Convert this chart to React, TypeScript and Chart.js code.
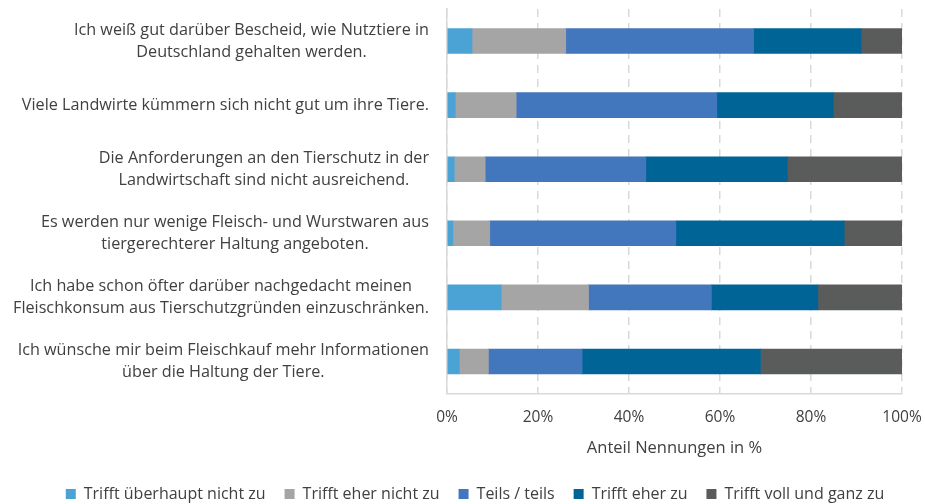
import React, { useEffect, useRef } from "react";
import { Chart, registerables } from "chart.js";

Chart.register(...registerables);

const categories: string[][] = [
  ["Ich weiß gut darüber Bescheid, wie Nutztiere in", "Deutschland gehalten werden."],
  ["Viele Landwirte kümmern sich nicht gut um ihre Tiere."],
  ["Die Anforderungen an den Tierschutz in der", "Landwirtschaft sind nicht ausreichend."],
  ["Es werden nur wenige Fleisch- und Wurstwaren aus", "tiergerechterer Haltung angeboten."],
  ["Ich habe schon öfter darüber nachgedacht meinen", "Fleischkonsum aus Tierschutzgründen einzuschränken."],
  ["Ich wünsche mir beim Fleischkauf mehr Informationen", "über die Haltung der Tiere."],
];

const seriesNames = [
  "Trifft überhaupt nicht zu",
  "Trifft eher nicht zu",
  "Teils / teils",
  "Trifft eher zu",
  "Trifft voll und ganz zu",
];

const trifftUeberhauptNicht = [5.5, 1.8, 1.6, 1.3, 11.9, 2.7];
const trifftEherNicht = [20.6, 13.4, 6.8, 8.1, 19.2, 6.4];
const teilsTeils = [41.3, 44.1, 35.3, 40.9, 27.0, 20.6];
const trifftEher = [23.6, 25.6, 31.1, 37.0, 23.4, 39.2];
const trifftVoll = [9.0, 15.1, 25.2, 12.7, 18.5, 31.1];

const xTicks = [0, 20, 40, 60, 80, 100];
const xTitle = "Anteil Nennungen in %";

const colors = ["#4BA3D5", "#A5A5A5", "#4276BD", "#006496", "#5A5B5B"];
const FONT = "'Open Sans', Lato, sans-serif";
const TEXT = "#404040";
const PAD_LEFT = 25;

const yLabelPlugin = {
  id: "yLabelPlugin",
  afterDraw(chart: any) {
    const ctx = chart.ctx;
    const yScale = chart.scales.y;
    const right = chart.chartArea.left - 18;
    const lh = 22;
    ctx.save();
    ctx.font = `16.2px ${FONT}`;
    ctx.fillStyle = TEXT;
    ctx.textAlign = "center";
    ctx.textBaseline = "middle";
    categories.forEach((lines, i) => {
      const y = yScale.getPixelForValue(i);
      const maxW = Math.max(...lines.map((l) => ctx.measureText(l).width));
      const cx = right - maxW / 2;
      lines.forEach((l, j) => {
        ctx.fillText(l, cx, y + (j - (lines.length - 1) / 2) * lh);
      });
    });
    ctx.restore();
  },
};

export default function App() {
  const ref = useRef<HTMLCanvasElement>(null);
  useEffect(() => {
    document.body.style.margin = "0";
    const values = [trifftUeberhauptNicht, trifftEherNicht, teilsTeils, trifftEher, trifftVoll];
    const chart = new Chart(ref.current!, {
      type: "bar",
      data: {
        labels: categories.map((c) => c.join(" ")),
        datasets: seriesNames.map((name, k) => ({
          label: name,
          data: values[k],
          backgroundColor: colors[k],
          borderWidth: 0,
          barThickness: 25,
        })),
      },
      options: {
        indexAxis: "y",
        animation: false,
        responsive: false,
        layout: { padding: { top: 9, right: 0, left: PAD_LEFT, bottom: -8 } },
        scales: {
          x: {
            stacked: true,
            min: 0,
            max: 100,
            afterBuildTicks: (scale: any) => {
              scale.ticks = xTicks.map((v) => ({ value: v }));
            },
            afterFit: (scale: any) => {
              scale.height = 73.5;
              scale.paddingLeft = 0;
              scale.paddingRight = 0;
            },
            ticks: {
              callback: (v: any) => v + "%",
              color: TEXT,
              font: { family: FONT, size: 15.5 },
              padding: 15,
              maxRotation: 0,
            },
            grid: {
              color: "#D9D9D9",
              lineWidth: 1.5,
              drawTicks: false,
            },
            border: { display: true, color: "#D9D9D9", width: 1.5, dash: [8, 6] },
            title: {
              display: true,
              text: xTitle,
              color: TEXT,
              font: { family: FONT, size: 16.5 },
              padding: { top: 0, bottom: 8.5 },
            },
          },
          y: {
            stacked: true,
            afterFit: (scale: any) => {
              scale.width = 447 - PAD_LEFT;
            },
            ticks: { display: false },
            grid: { display: false },
            border: { display: true, color: "#D9D9D9", width: 1.5 },
          },
          yRightSpace: {
            type: "linear",
            position: "right",
            afterFit: (scale: any) => {
              scale.width = 23;
            },
            ticks: { display: false },
            grid: { display: false },
            border: { display: false },
          },
        },
        plugins: {
          legend: {
            position: "bottom",
            labels: {
              boxWidth: 10,
              boxHeight: 10,
              color: TEXT,
              font: { family: FONT, size: 16 },
              padding: 19,
            },
          },
          tooltip: { enabled: false },
        },
      },
      plugins: [yLabelPlugin],
    });
    return () => chart.destroy();
  }, []);
  return <canvas ref={ref} width={925} height={504} style={{ display: "block" }} />;
}
